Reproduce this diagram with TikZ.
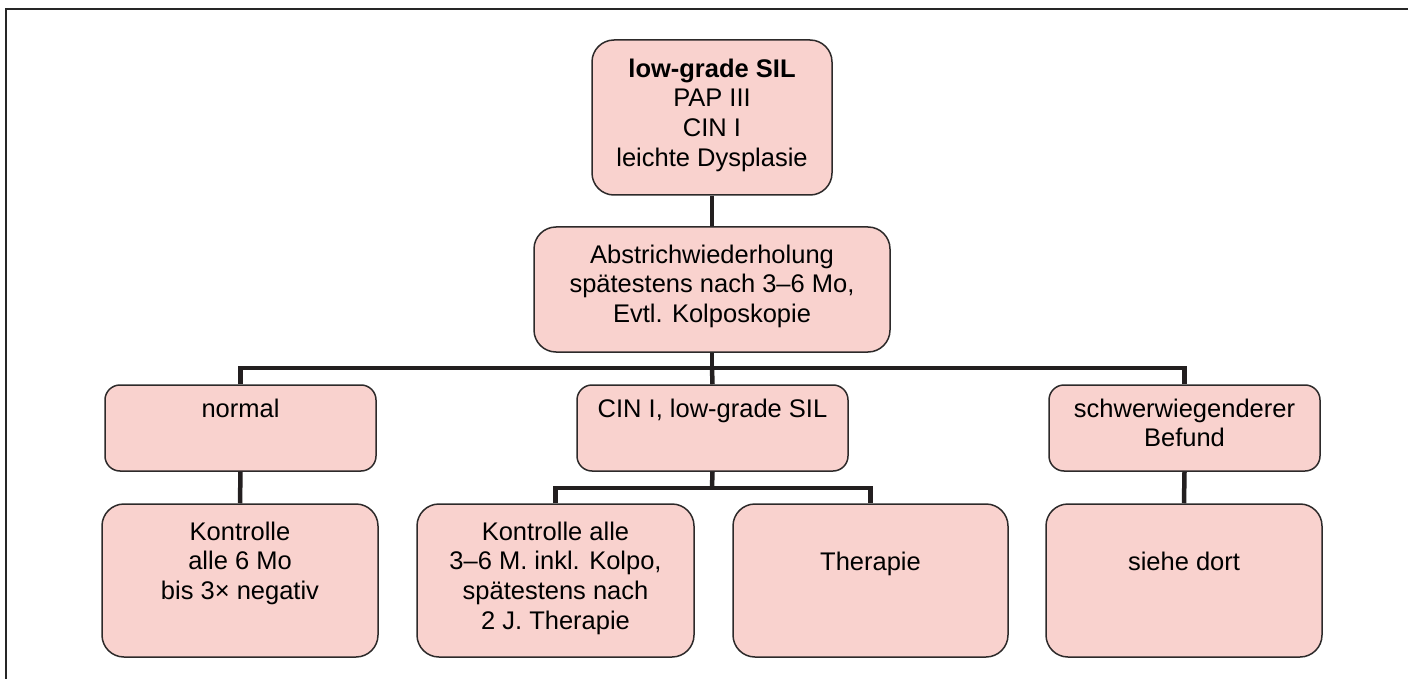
\documentclass[tikz,border=0pt]{standalone}
\usepackage{fontspec}
\setmainfont{Liberation Sans}
\definecolor{boxfill}{RGB}{249,210,206}
\definecolor{boxline}{RGB}{45,42,42}
\definecolor{connline}{RGB}{35,31,32}
\newcommand{\boxtext}[2]{\parbox[t]{#1}{\centering #2}}
\tikzset{
  box/.style={draw=boxline, line width=1.5pt, fill=boxfill, inner sep=0pt},
  bigbox/.style={box, rounded corners=22pt},
  smallbox/.style={box, rounded corners=15pt},
  txt/.style={inner sep=0pt, anchor=base, font=\fontsize{25.5}{29.7}\selectfont},
  conn/.style={draw=connline, line width=4.5pt, line join=miter},
  frame/.style={draw=black!85, line width=2pt}
}
\begin{document}
\begin{tikzpicture}[x=1pt,y=-1pt]
\useasboundingbox (0,0) rectangle (1408,679);
% frame
\coordinate (fr1) at (6,679);
\coordinate (fr2) at (6,9);
\coordinate (fr3) at (1408,9);
\draw[frame] (fr1) -- (fr2) -- (fr3);

% boxes
\node[bigbox, minimum width=240, minimum height=155] (top) at (712,117.5) {};
\node[bigbox, minimum width=356, minimum height=125] (mid) at (712,289.5) {};
\node[smallbox, minimum width=271, minimum height=86] (normal) at (240.5,428) {};
\node[smallbox, minimum width=271, minimum height=86] (cin) at (712.5,428) {};
\node[smallbox, minimum width=271, minimum height=86] (schwer) at (1184.5,428) {};
\node[bigbox, minimum width=276, minimum height=153] (kontr) at (240,580.5) {};
\node[bigbox, minimum width=277, minimum height=153] (kalle) at (555.5,580.5) {};
\node[bigbox, minimum width=275, minimum height=153] (ther) at (870.5,580.5) {};
\node[bigbox, minimum width=276, minimum height=153] (siehe) at (1184,580.5) {};

% texts
\node[txt] (topt) at ([yshift=-38pt]top.north) {\boxtext{240pt}{\textbf{low-grade SIL}\\PAP III\\CIN I\\leichte Dysplasie}};
\node[txt] (midt) at ([yshift=-37pt]mid.north) {\boxtext{356pt}{Abstrichwiederholung\\spätestens nach 3–6 Mo,\\Evtl. Kolposkopie}};
\node[txt] (normalt) at ([yshift=-33pt]normal.north) {\boxtext{271pt}{normal}};
\node[txt] (cint) at ([yshift=-33pt]cin.north) {\boxtext{271pt}{CIN I, low-grade SIL}};
\node[txt] (schwert) at ([yshift=-33pt]schwer.north) {\boxtext{271pt}{schwerwiegenderer\\Befund}};
\node[txt] (kontrt) at ([yshift=-37pt]kontr.north) {\boxtext{276pt}{Kontrolle\\alle 6 Mo\\bis 3× negativ}};
\node[txt] (kallet) at ([yshift=-37pt]kalle.north) {\boxtext{277pt}{Kontrolle alle\\3–6 M. inkl. Kolpo,\\spätestens nach\\2 J. Therapie}};
\node[txt] (thert) at ([yshift=-67pt]ther.north) {\boxtext{275pt}{Therapie}};
\node[txt] (sieht) at ([yshift=-67pt]siehe.north) {\boxtext{276pt}{siehe dort}};

% connectors
\coordinate (bus1) at (712,368);
\coordinate (bus2) at (712,488);
\draw[conn] (top.south) -- (mid.north);
\draw[conn] (mid.south) -- (bus1);
\draw[conn] (normal.north) |- (bus1) -| (schwer.north);
\draw[conn] (bus1) -- (cin.north);
\draw[conn] (cin.south) -- (bus2);
\draw[conn] (kalle.north) |- (bus2) -| (ther.north);
\draw[conn] (normal.south) -- (kontr.north);
\draw[conn] (schwer.south) -- (siehe.north);
\end{tikzpicture}
\end{document}
